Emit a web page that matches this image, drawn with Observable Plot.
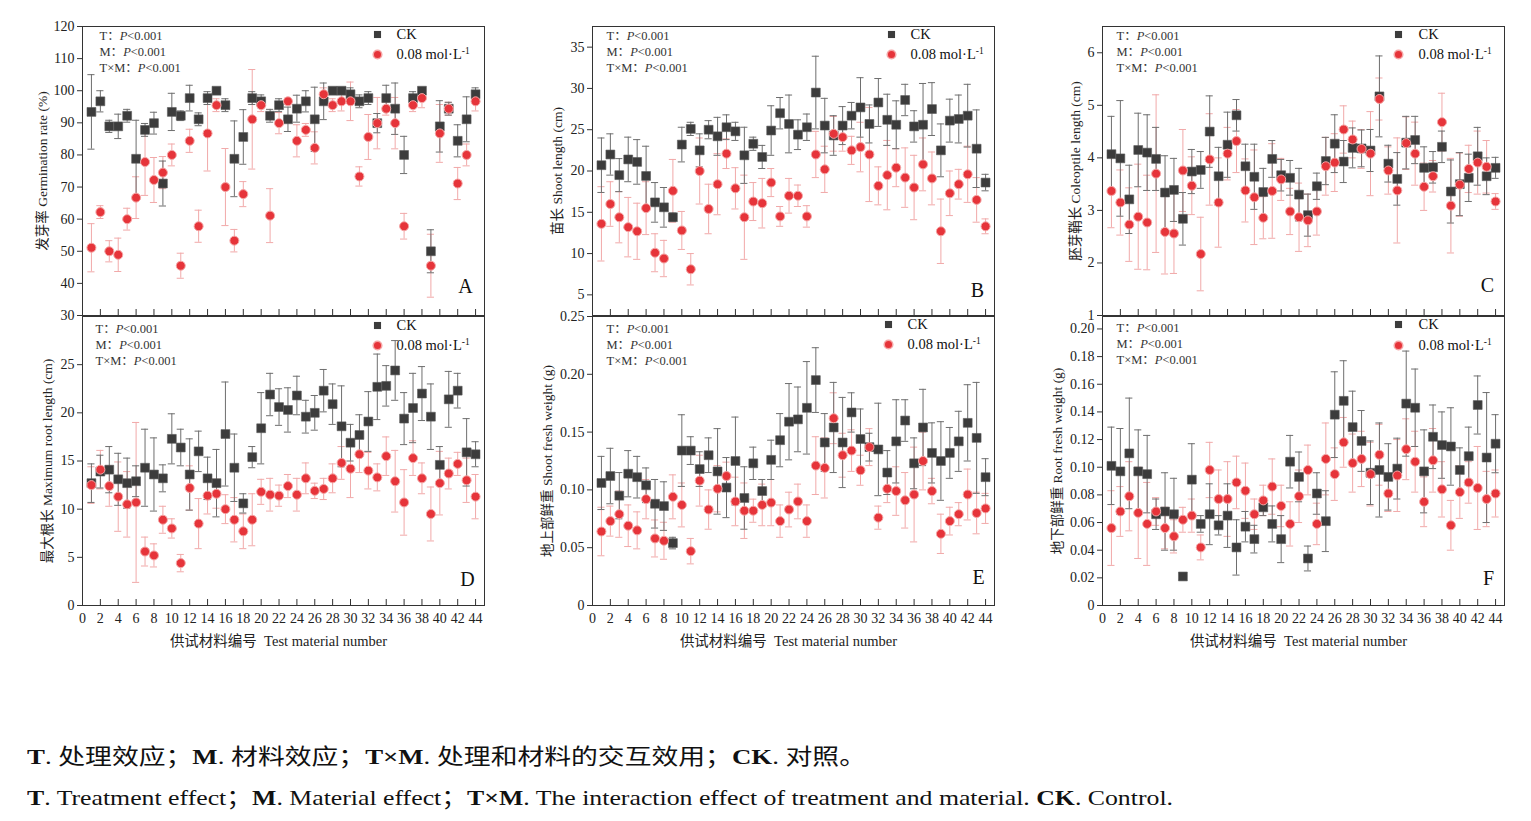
<!DOCTYPE html>
<html><head><meta charset="utf-8">
<script src="https://cdn.jsdelivr.net/npm/d3@7"></script>
<script src="https://cdn.jsdelivr.net/npm/@observablehq/plot@0.6"></script>
<style>
html,body{margin:0;padding:0;background:#fff;}
#fig{position:relative;width:1531px;height:821px;background:#fff;overflow:hidden;}
.panel{position:absolute;}
.cap{position:absolute;left:27px;font-family:'Liberation Serif','Noto Sans CJK SC',serif;font-size:22px;color:#111;white-space:nowrap;transform-origin:0 50%;}
.cap b{font-weight:bold;}
</style></head>
<body><div id="fig"></div>
<script>
// ---------------- data ----------------
const materials = d3.range(1, 45);
const xTickLabels = d3.range(0, 45, 2);
const seriesNames = ["CK", "0.08 mol·L"];
const statLines = ["T：P<0.001", "M：P<0.001", "T×M：P<0.001"];

const A_ck = [93.4,96.7,88.9,88.9,92.2,78.8,87.8,89.9,71.1,93.4,92.2,97.7,91.1,97.7,100,95.5,78.8,85.6,97.7,96.7,92.2,95.5,91.1,94.4,96.7,91.1,96.7,100,100,98.9,96.7,97.7,89.9,97.7,94.4,80,97.7,100,50,88.9,94.4,84.4,91.1,98.9];
const A_ckErr = [11.6,3.3,1.9,3.8,2,12,2,3.4,7,5.8,1.5,4,2,2,0.5,2,11.8,8.5,2,2,2,2,3.8,4.2,3.3,10,5.7,0.5,0.5,2,2,2,3,4,8,5.8,2,1,6.7,8,2,5,7,2];
const A_trt = [51.1,62.2,50,48.9,60,66.7,77.8,72.2,74.5,80,45.5,84.4,57.8,86.7,95.5,70,53.3,67.8,91.1,95.5,61.1,89.9,96.7,84.4,87.8,82.2,98.9,95.5,96.7,96.7,73.3,85.6,89.9,94.4,89.9,57.8,95.5,97.7,45.5,86.7,94.4,71.1,80,96.7];
const A_trtErr = [7.5,2,3.3,5.2,3.4,6.5,10.4,7,5,3.4,3.9,3.6,5,11.7,2,12,3.5,3.9,15.5,2,8.4,3.3,1,5,2,5,2,2,3,6,3,7,8,2,8,4,2,3,9.8,9,2,5,3.4,3];

const B_ck = [20.7,22,19.5,21.4,21.1,19.4,16.2,15.6,14.4,23.2,25.1,22.5,25,24.2,25.3,24.8,21.9,23.3,21.7,24.9,27,25.7,24.4,25.3,29.5,25.5,24.3,25.5,26.7,27.7,25.7,28.3,26.2,25.6,28.6,25.4,25.6,27.5,22.5,26.1,26.3,26.7,22.7,18.6];
const B_ckErr = [3.3,2.5,2,2.7,2.7,3.6,2.4,2.4,0.5,2.1,0.8,2,1.1,2.3,1.5,1.1,3.4,0.8,1.4,3,1.9,3.5,1.8,1.6,4.4,3.3,2.4,2.3,1.6,3.6,2.3,2.9,3.1,2.9,1.9,1.9,5,3.2,3.2,2.6,2.9,3.8,4.7,1];
const B_trt = [13.6,16,14.4,13.2,12.7,15.5,10.1,9.4,17.6,12.8,8.1,20,15.4,18.4,22.1,17.9,14.4,16.3,16.1,18.6,14.5,17,17,14.5,22,20.2,24.5,24.1,22.5,22.9,22,18.2,19.5,20.4,19.2,18,20.8,19.1,12.7,17.3,18.4,19.6,16.5,13.3];
const B_trtErr = [4.5,2.7,3.1,3.6,3.4,3.2,2.3,2.2,3.8,2.3,1.9,4,3,3.7,1.8,2.5,5.1,2.3,3,1.7,1.2,2.1,1.3,1.3,2.8,2.8,2.1,1.7,1.7,3,5.7,2.3,4.2,2.3,3.6,3.9,3.2,3.2,3.9,2.7,1.8,3.4,2.7,0.9];

const C_ck = [4.07,3.99,3.21,4.15,4.1,3.98,3.34,3.39,2.84,3.74,3.77,4.5,3.65,4.25,4.81,3.84,3.64,3.35,3.98,3.67,3.62,3.3,2.91,3.46,3.94,4.27,3.93,4.19,4.18,4.14,5.17,3.89,3.6,4.29,4.34,3.81,3.82,4.21,3.36,3.5,3.62,4.03,3.65,3.81];
const C_ckErr = [0.72,1.1,0.65,0.7,0.72,0.6,0.7,0.6,0.5,0.42,0.35,0.68,0.55,0.62,0.3,0.42,0.62,0.45,0.35,0.3,0.33,0.5,0.4,0.25,0.45,0.55,0.4,0.38,0.35,0.4,0.77,0.35,0.5,0.5,0.45,0.4,0.3,0.3,0.6,0.6,0.45,0.55,0.35,0.2];
const C_trt = [3.37,3.15,2.73,2.88,2.77,3.7,2.59,2.56,3.76,3.47,2.17,3.97,3.15,4.08,4.32,3.38,3.25,2.86,3.37,3.59,2.98,2.87,2.81,2.98,3.84,3.91,4.54,4.35,4.17,4.08,5.12,3.76,3.38,4.28,4.08,3.45,3.65,4.68,3.09,3.49,3.79,3.91,3.83,3.17];
const C_trtErr = [0.7,0.62,0.7,1,0.9,1.5,0.8,0.76,0.78,0.55,0.7,0.87,0.85,0.5,0.6,0.6,0.9,0.4,0.9,0.4,0.44,0.65,0.5,0.45,0.55,0.55,0.45,0.35,0.37,0.8,0.4,0.45,1.0,0.5,0.6,0.45,0.3,0.55,0.9,0.6,0.45,0.6,0.5,0.15];

const D_ck = [12.7,13.9,14.1,13.1,12.7,12.9,14.3,13.6,13.2,17.3,16.4,13.6,16,13.2,12.7,17.8,14.3,10.6,15.4,18.4,21.9,20.6,20.3,21.8,19.6,20,22.3,20.9,18.6,16.9,17.7,19.1,22.7,22.8,24.4,19.4,20.5,22,19.6,14.6,21.4,22.3,15.9,15.7];
const D_ckErr = [2,1.7,2.4,2.7,2.6,1.6,4,3.8,1.4,2.6,1.9,3.7,2.1,2.2,3.5,5.4,3.5,1,1.1,3.7,2.2,1.9,2.3,2,1.7,1.8,2.2,2.1,4.2,1.9,2.1,3.1,3.4,2.1,3.1,2.7,3.6,2.8,3.4,1.9,2.9,1.8,3.5,1.3];
const D_trt = [12.5,14.1,12.4,11.3,10.5,10.7,5.6,5.2,8.9,8,4.4,12.2,8.5,11.4,11.6,10,8.9,7.7,8.9,11.8,11.5,11.4,12.4,11.5,13.2,11.9,12.1,13.2,14.8,14.2,15.7,14,13.3,15.5,12.9,10.7,15.3,13.2,9.5,12.7,13.7,14.7,13,11.3];
const D_trtErr = [1.9,2,2.1,3.6,3.4,8.3,1.5,1.2,1.4,1,0.9,2.3,2.6,1.9,1.5,1.5,2.3,1.8,2.7,1.3,1.7,1.1,1.2,1.7,1.6,0.8,1.1,1.5,1.7,3,1.9,1.9,1.4,2,3.2,3.4,1.8,1.6,2.8,3.3,1.6,1.2,2.3,2.3];

const E_ck = [0.106,0.112,0.095,0.114,0.111,0.104,0.088,0.086,0.054,0.134,0.134,0.118,0.13,0.116,0.102,0.125,0.093,0.123,0.099,0.126,0.143,0.159,0.161,0.171,0.195,0.141,0.154,0.141,0.167,0.144,0.137,0.135,0.115,0.142,0.16,0.123,0.154,0.132,0.125,0.132,0.142,0.158,0.145,0.111];
const E_ckErr = [0.023,0.024,0.02,0.02,0.018,0.015,0.021,0.021,0.005,0.031,0.012,0.015,0.015,0.037,0.026,0.038,0.027,0.014,0.01,0.017,0.023,0.033,0.028,0.04,0.028,0.025,0.039,0.039,0.017,0.026,0.012,0.04,0.019,0.036,0.018,0.022,0.033,0.026,0.034,0.022,0.026,0.033,0.048,0.016];
const E_trt = [0.064,0.073,0.079,0.069,0.065,0.092,0.058,0.056,0.094,0.087,0.047,0.108,0.083,0.101,0.112,0.09,0.082,0.082,0.087,0.089,0.073,0.083,0.09,0.073,0.121,0.119,0.162,0.13,0.134,0.117,0.137,0.076,0.101,0.099,0.091,0.096,0.125,0.099,0.062,0.073,0.079,0.096,0.08,0.084];
const E_trtErr = [0.021,0.013,0.02,0.018,0.016,0.017,0.016,0.016,0.019,0.019,0.011,0.022,0.017,0.02,0.012,0.021,0.024,0.01,0.018,0.02,0.014,0.015,0.015,0.014,0.025,0.026,0.022,0.019,0.018,0.013,0.016,0.01,0.012,0.021,0.024,0.041,0.025,0.011,0.017,0.012,0.01,0.022,0.018,0.013];

const F_ck = [0.101,0.097,0.11,0.097,0.095,0.066,0.068,0.066,0.021,0.091,0.059,0.066,0.058,0.065,0.042,0.057,0.048,0.071,0.059,0.048,0.104,0.093,0.034,0.081,0.061,0.138,0.148,0.129,0.119,0.096,0.098,0.093,0.099,0.146,0.143,0.097,0.122,0.116,0.115,0.098,0.108,0.145,0.107,0.117];
const F_ckErr = [0.028,0.031,0.04,0.03,0.028,0.011,0.028,0.026,0.002,0.026,0.006,0.022,0.007,0.023,0.02,0.011,0.01,0.006,0.013,0.017,0.019,0.018,0.009,0.015,0.022,0.031,0.029,0.026,0.022,0.023,0.034,0.024,0.022,0.038,0.028,0.03,0.023,0.024,0.028,0.016,0.021,0.021,0.047,0.021];
const F_trt = [0.056,0.068,0.079,0.067,0.059,0.068,0.056,0.05,0.062,0.065,0.042,0.098,0.077,0.077,0.089,0.083,0.066,0.076,0.086,0.072,0.059,0.079,0.098,0.059,0.106,0.095,0.118,0.103,0.106,0.095,0.109,0.081,0.094,0.113,0.104,0.075,0.105,0.084,0.058,0.082,0.089,0.085,0.077,0.081];
const F_trtErr = [0.027,0.018,0.025,0.033,0.03,0.01,0.015,0.012,0.009,0.012,0.009,0.02,0.021,0.027,0.019,0.02,0.011,0.011,0.02,0.015,0.016,0.019,0.018,0.015,0.026,0.019,0.018,0.021,0.02,0.023,0.022,0.013,0.026,0.022,0.022,0.018,0.023,0.02,0.018,0.019,0.015,0.03,0.02,0.017];

const fmt2 = d => d === 0 ? "0" : d.toFixed(2);

const panels = [
  {id:"A", left:0, top:16, bottom:false, ck:A_ck, ckErr:A_ckErr, trt:A_trt, trtErr:A_trtErr,
   domain:[30,120], yticks:d3.range(30,121,10), fmt:d=>String(d), ylabel:"发芽率 Germination rate (%)", yoff:40,
   stat:[17,9], leg:[-107,8,28,-88], letter:[-19,-29]},
  {id:"B", left:510, top:16, bottom:false, ck:B_ck, ckErr:B_ckErr, trt:B_trt, trtErr:B_trtErr,
   domain:[2.5,37.5], yticks:d3.range(5,36,5), fmt:d=>String(d), ylabel:"苗长 Shoot length (cm)", yoff:35,
   stat:[14,9], leg:[-103,8,28,-84], letter:[-17,-25]},
  {id:"C", left:1020, top:16, bottom:false, ck:C_ck, ckErr:C_ckErr, trt:C_trt, trtErr:C_trtErr,
   domain:[1,6.5], yticks:d3.range(1,7,1), fmt:d=>String(d), ylabel:"胚芽鞘长 Coleoptile length (cm)", yoff:27,
   stat:[14,9], leg:[-106,8,28,-86], letter:[-17,-30]},
  {id:"D", left:0, top:306, bottom:true, ck:D_ck, ckErr:D_ckErr, trt:D_trt, trtErr:D_trtErr,
   domain:[0,30], yticks:d3.range(0,26,5), fmt:d=>String(d), ylabel:"最大根长 Maximum root length (cm)", yoff:35,
   stat:[13,12], leg:[-107,9,29,-88], letter:[-17,-26]},
  {id:"E", left:510, top:306, bottom:true, ck:E_ck, ckErr:E_ckErr, trt:E_trt, trtErr:E_trtErr,
   domain:[0,0.25], yticks:[0,0.05,0.10,0.15,0.20,0.25], fmt:fmt2, ylabel:"地上部鲜重 Shoot fresh weight (g)", yoff:45,
   stat:[14,12], leg:[-106,8,28,-87], letter:[-16,-28]},
  {id:"F", left:1020, top:306, bottom:true, ck:F_ck, ckErr:F_ckErr, trt:F_trt, trtErr:F_trtErr,
   domain:[0,0.209], yticks:d3.range(0,0.2001,0.02).map(v=>+v.toFixed(2)), fmt:fmt2, ylabel:"地下部鲜重 Root fresh weight (g)", yoff:45,
   stat:[14,11], leg:[-106,8,29,-86], letter:[-16,-27]}
];

const CK_FILL = "#3c3c3c", CK_BAR = "#6e6e6e";
const TR_FILL = "#e6343a", TR_BAR = "#f1a9a9";
const FONT = "'Liberation Serif','Noto Sans CJK SC',serif";

function errMarks(data, stroke) {
  return [
    Plot.ruleX(data, {x:"i", y1:d=>d.v-d.e, y2:d=>d.v+d.e, stroke, strokeWidth:1}),
    Plot.ruleY(data, {y:d=>d.v+d.e, x1:d=>d.i-0.4, x2:d=>d.i+0.4, stroke, strokeWidth:1}),
    Plot.ruleY(data, {y:d=>d.v-d.e, x1:d=>d.i-0.4, x2:d=>d.i+0.4, stroke, strokeWidth:1})
  ];
}

const fig = document.getElementById("fig");
for (const p of panels) {
  const mt = 10, mb = p.bottom ? 50 : 5;
  const height = p.bottom ? 349 : 304;
  const plotH = height - mt - mb;
  const [y0, y1] = p.domain;
  const tickLen = 6 * (y1 - y0) / plotH;
  const ck = materials.map((m,k)=>({i:m, v:p.ck[k], e:p.ckErr[k]}));
  const tr = materials.map((m,k)=>({i:m, v:p.trt[k], e:p.trtErr[k]}));
  const marks = [
    ...errMarks(tr, TR_BAR),
    ...errMarks(ck, CK_BAR),
    Plot.dot(ck, {x:"i", y:"v", symbol:"square", r:5, fill:CK_FILL, stroke:"#5a5a5a", strokeWidth:0.6}),
    Plot.dot(tr, {x:"i", y:"v", r:4.5, fill:TR_FILL, stroke:"#f5a5a5", strokeWidth:1}),
    Plot.frame({stroke:"#333", strokeWidth:1}),
    Plot.ruleX(xTickLabels.filter(d=>d>0), {x:d=>d, y1:y0, y2:y0+tickLen, stroke:"#333", strokeWidth:1}),
    Plot.axisY({ticks:p.yticks, tickSize:5, tickPadding:3, tickFormat:p.fmt, label:null, fontSize:14, stroke:"#333"}),
    // y label
    Plot.text([p.ylabel], {frameAnchor:"left", dx:-p.yoff, rotate:-90, textAnchor:"middle", lineAnchor:"middle", fontSize:13.5, fill:"#222"}),
    // stats
    ...statLines.map((s,k)=>Plot.text([s], {frameAnchor:"top-left", dx:p.stat[0], dy:p.stat[1]+16*k, textAnchor:"start", lineAnchor:"middle", fontSize:12.5, fill:"#333", ariaDescription:"stat"})),
    // legend
    Plot.dot([0], {frameAnchor:"top-right", dx:p.leg[0], dy:p.leg[1], symbol:"square", r:4, fill:CK_FILL}),
    Plot.dot([0], {frameAnchor:"top-right", dx:p.leg[0], dy:p.leg[2], r:4.3, fill:TR_FILL, stroke:"#f5a5a5"}),
    Plot.text([seriesNames[0]], {frameAnchor:"top-right", dx:p.leg[3], dy:p.leg[1], textAnchor:"start", lineAnchor:"middle", fontSize:14.5, fill:"#111"}),
    Plot.text([seriesNames[1]], {frameAnchor:"top-right", dx:p.leg[3], dy:p.leg[2], textAnchor:"start", lineAnchor:"middle", fontSize:14.5, fill:"#111", ariaDescription:"leg2"}),
    // panel letter
    Plot.text([p.id], {frameAnchor:"bottom-right", dx:p.letter[0], dy:p.letter[1], textAnchor:"middle", lineAnchor:"middle", fontSize:20, fill:"#111"})
  ];
  if (p.bottom) {
    marks.push(Plot.axisX({ticks:xTickLabels, tickSize:0, tickPadding:8, label:null, fontSize:14}));
    marks.push(Plot.text(["供试材料编号  Test material number"], {frameAnchor:"bottom", dx:-5, dy:36, textAnchor:"middle", lineAnchor:"middle", fontSize:14.5, fill:"#222"}));
  }
  const svg = Plot.plot({
    width:500, height, marginLeft:82, marginRight:16, marginTop:mt, marginBottom:mb,
    x:{domain:[0,45], ...(p.bottom ? {} : {axis:null})},
    y:{domain:[y0,y1]},
    style:{fontFamily:FONT, fontSize:"14px", color:"#222", overflow:"visible", background:"transparent"},
    marks
  });
  // italic P in the statistics lines
  d3.select(svg).selectAll('g[aria-description="stat"] text').each(function(){
    const s = this.textContent; const idx = s.indexOf("P");
    if (idx < 0) return;
    this.textContent = s.slice(0, idx);
    d3.select(this).append("tspan").attr("font-style","italic").text("P");
    d3.select(this).append("tspan").text(s.slice(idx+1));
  });
  // superscript -1 in the legend
  d3.select(svg).selectAll('g[aria-description="leg2"] text').each(function(){
    d3.select(this).append("tspan").attr("dy","-5").attr("font-size","9.5").text("-1");
  });
  const div = document.createElement("div");
  div.className = "panel";
  div.style.left = p.left + "px"; div.style.top = p.top + "px";
  div.appendChild(svg);
  fig.appendChild(div);
}

// captions
const cap1 = document.createElement("div");
cap1.className = "cap"; cap1.style.top = "738px";
cap1.innerHTML = "<span><b>T</b>. 处理效应；<b>M</b>. 材料效应；<b>T×M</b>. 处理和材料的交互效用；<b>CK</b>. 对照。</span>";
const cap2 = document.createElement("div");
cap2.className = "cap"; cap2.style.top = "779px";
cap2.innerHTML = "<span><b>T</b>. Treatment effect；<b>M</b>. Material effect；<b>T×M</b>. The interaction effect of treatment and material. <b>CK</b>. Control.</span>";
fig.appendChild(cap1); fig.appendChild(cap2);
function fit(el, target){
  el.style.transform = "none";
  const w = el.firstChild.getBoundingClientRect().width;
  if (w > 0) el.style.transform = "scaleX(" + (target / w) + ")";
}
function fitAll(){ fit(cap1, 839); fit(cap2, 1146); }
fitAll();
if (document.fonts && document.fonts.ready) document.fonts.ready.then(fitAll);
</script>
</body></html>
